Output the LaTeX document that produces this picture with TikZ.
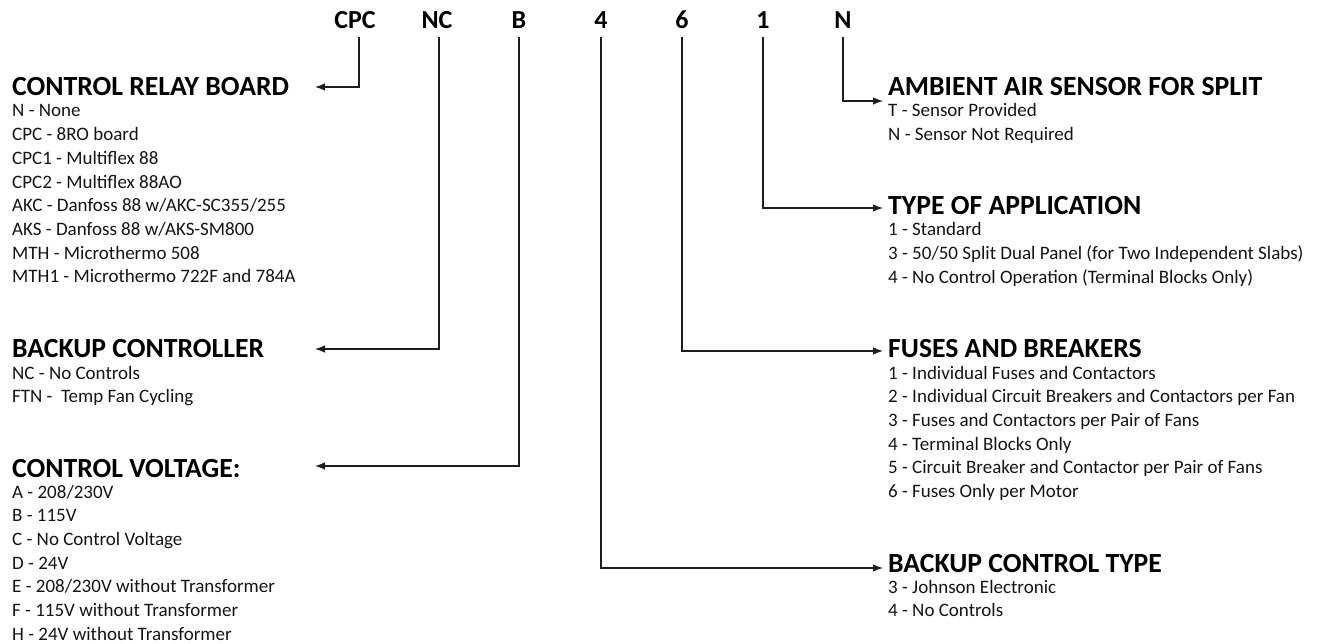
\documentclass[tikz,border=0pt]{standalone}
\usepackage{fontspec}
\setmainfont{Carlito}
\usepackage{tikz}
\usetikzlibrary{arrows.meta, positioning}
\definecolor{mydark}{RGB}{20,20,20}
\definecolor{myline}{RGB}{30,30,30}
\tikzset{
  code/.style={font=\fontsize{26}{26}\selectfont\bfseries,
    inner xsep=0pt, inner ysep=8pt, anchor=base},
  heading/.style={font=\fontsize{27.7}{27.7}\selectfont\bfseries,
    inner sep=0pt, anchor=base west},
  item/.style={font=\fontsize{19}{19}\selectfont, color=mydark,
    inner sep=0pt, anchor=base west},
  arrow/.style={-{Latex[length=10pt,width=7.5pt]}, line width=1.1pt, color=myline}
}

\begin{document}
\begin{tikzpicture}[x=1pt, y=-1pt]
  \useasboundingbox (0,0) rectangle (1323,644);
  % model code letters
  \node[code] (cCPC) at (355,29) {CPC};
  \node[code] (cNC) at (437,29) {NC};
  \node[code] (cB) at (519,29) {B};
  \node[code] (cFour) at (601,29) {4};
  \node[code] (cSix) at (682,29) {6};
  \node[code] (cOne) at (763,29) {1};
  \node[code] (cN) at (843,29) {N};
  % left column
  \node[heading] (hRelay) at (12,96) {CONTROL RELAY BOARD};
  \foreach \t [count=\i from 0] in {N - None, CPC - 8RO board,
      CPC1 - Multiflex 88, CPC2 - Multiflex 88AO,
      AKC - Danfoss 88 w/AKC-SC355/255, AKS - Danfoss 88 w/AKS-SM800,
      MTH - Microthermo 508, MTH1 - Microthermo 722F and 784A}
    \node[item] (relay\i) at (12,117+23.7*\i) {\t};
  \node[heading] (hBackup) at (12,358) {BACKUP CONTROLLER};
  \foreach \t [count=\i from 0] in {NC - No Controls, FTN - \ Temp Fan Cycling}
    \node[item] (backup\i) at (12,379+23.7*\i) {\t};
  \node[heading] (hVolt) at (12,477) {CONTROL VOLTAGE:};
  \foreach \t [count=\i from 0] in {A - 208/230V, B - 115V,
      C - No Control Voltage, D - 24V, E - 208/230V without Transformer,
      F - 115V without Transformer, H - 24V without Transformer}
    \node[item] (volt\i) at (12,498+23.7*\i) {\t};
  % right column
  \node[heading] (hSensor) at (888,96) {AMBIENT AIR SENSOR FOR SPLIT};
  \foreach \t [count=\i from 0] in {T - Sensor Provided, N - Sensor Not Required}
    \node[item] (sensor\i) at (888,117+23.7*\i) {\t};
  \node[heading] (hApp) at (888,215) {TYPE OF APPLICATION};
  \foreach \t [count=\i from 0] in {1 - Standard,
      3 - 50/50 Split Dual Panel (for Two Independent Slabs),
      4 - No Control Operation (Terminal Blocks Only)}
    \node[item] (app\i) at (888,236+23.7*\i) {\t};
  \node[heading] (hFuse) at (888,358) {FUSES AND BREAKERS};
  \foreach \t [count=\i from 0] in {1 - Individual Fuses and Contactors,
      2 - Individual Circuit Breakers and Contactors per Fan,
      3 - Fuses and Contactors per Pair of Fans, 4 - Terminal Blocks Only,
      5 - Circuit Breaker and Contactor per Pair of Fans,
      6 - Fuses Only per Motor}
    \node[item] (fuse\i) at (888,379+23.7*\i) {\t};
  \node[heading] (hCtrl) at (888,572) {BACKUP CONTROL TYPE};
  \foreach \t [count=\i from 0] in {3 - Johnson Electronic, 4 - No Controls}
    \node[item] (ctrl\i) at (888,593+23.7*\i) {\t};
  % arrow ends
  \coordinate (aRelay) at (315,87);
  \coordinate (aBackup) at (315,349);
  \coordinate (aVolt) at (315,466);
  \coordinate (aCtrl) at (883,568);
  \coordinate (aFuse) at (883,351);
  \coordinate (aApp) at (883,208);
  \coordinate (aSensor) at (883,101);
  % connectors
  \draw[arrow] ([xshift=4pt]cCPC.south) |- (aRelay);
  \draw[arrow] ([xshift=2pt]cNC.south) |- (aBackup);
  \draw[arrow] (cB.south) |- (aVolt);
  \draw[arrow] (cFour.south) |- (aCtrl);
  \draw[arrow] (cSix.south) |- (aFuse);
  \draw[arrow] (cOne.south) |- (aApp);
  \draw[arrow] (cN.south) |- (aSensor);
\end{tikzpicture}
\end{document}
